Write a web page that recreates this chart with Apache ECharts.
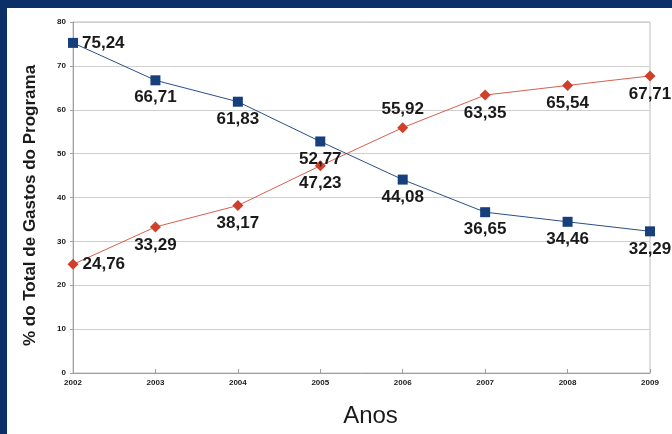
<!DOCTYPE html>
<html><head><meta charset="utf-8">
<script src="https://cdn.jsdelivr.net/npm/echarts@6/dist/echarts.min.js"></script>
<style>html,body{margin:0;padding:0;background:#fff;}#c{width:672px;height:434px;}</style>
</head><body><div id="c"></div>
<script>
const years = ['2002','2003','2004','2005','2006','2007','2008','2009'];
const blueValues = [75.24, 66.71, 61.83, 52.77, 44.08, 36.65, 34.46, 32.29];
const redValues = [24.76, 33.29, 38.17, 47.23, 55.92, 63.35, 65.54, 67.71];
const blueLabelPos = ['right','bottom','bottom','bottom','bottom','bottom','bottom','bottom'];
const redLabelPos = ['right','bottom','bottom','bottom','top','bottom','bottom','bottom'];
const yTitle = '% do Total de Gastos do Programa';
const xTitle = 'Anos';

const fmt = v => v.toFixed(2).replace('.', ',');
const labelStyle = {show:true, fontFamily:'Liberation Sans, Arial', fontWeight:'bold', fontSize:17, color:'#1a1a1a', distance:4, formatter: p => fmt(p.value)};

function mk(values, pos) {
  return values.map((v,i) => ({value:v, label:{position:pos[i]}}));
}

const chart = echarts.init(document.getElementById('c'));
chart.setOption({
  animation:false,
  backgroundColor:'#fff',
  graphic:[
    {type:'rect', left:0, top:0, shape:{width:672, height:8}, style:{fill:'#0b2f66'}, z:100},
    {type:'rect', left:0, top:0, shape:{width:7, height:434}, style:{fill:'#0b2f66'}, z:100}
  ],
  grid:{left:73, right:22, top:22, bottom:61, show:true, borderColor:'#bdbdbd', borderWidth:1},
  xAxis:{
    type:'category', data:years, boundaryGap:false,
    name:xTitle, nameLocation:'middle', nameGap:31,
    nameTextStyle:{fontFamily:'Liberation Sans, Arial', fontSize:24, color:'#1a1a1a', padding:[0,0,0,18]},
    axisLine:{lineStyle:{color:'#a0a0a0'}},
    axisTick:{show:true, inside:true, length:4, lineStyle:{color:'#a0a0a0'}},
    axisLabel:{fontFamily:'Liberation Sans, Arial', fontSize:8, fontWeight:'bold', color:'#1a1a1a', margin:6},
    splitLine:{show:false}
  },
  yAxis:{
    type:'value', min:0, max:80, interval:10,
    name:yTitle, nameLocation:'middle', nameGap:34,
    nameTextStyle:{fontFamily:'Liberation Sans, Arial', fontSize:17, fontWeight:'bold', color:'#1a1a1a', padding:[0,16,0,0]},
    axisLine:{show:true, lineStyle:{color:'#a0a0a0'}},
    axisTick:{show:true, length:3, lineStyle:{color:'#a0a0a0'}},
    axisLabel:{fontFamily:'Liberation Sans, Arial', fontSize:8, fontWeight:'bold', color:'#1a1a1a', margin:7},
    splitLine:{lineStyle:{color:'#cfcfcf'}}
  },
  series:[
    {type:'line', data:mk(blueValues, blueLabelPos), symbol:'rect', symbolSize:10,
     lineStyle:{color:'#2a4f86', width:1}, itemStyle:{color:'#173f7c'}, label:labelStyle, z:3},
    {type:'line', data:mk(redValues, redLabelPos), symbol:'diamond', symbolSize:11,
     lineStyle:{color:'#d8604c', width:1}, itemStyle:{color:'#cf3f2a'}, label:labelStyle, z:2}
  ]
});
</script></body></html>
